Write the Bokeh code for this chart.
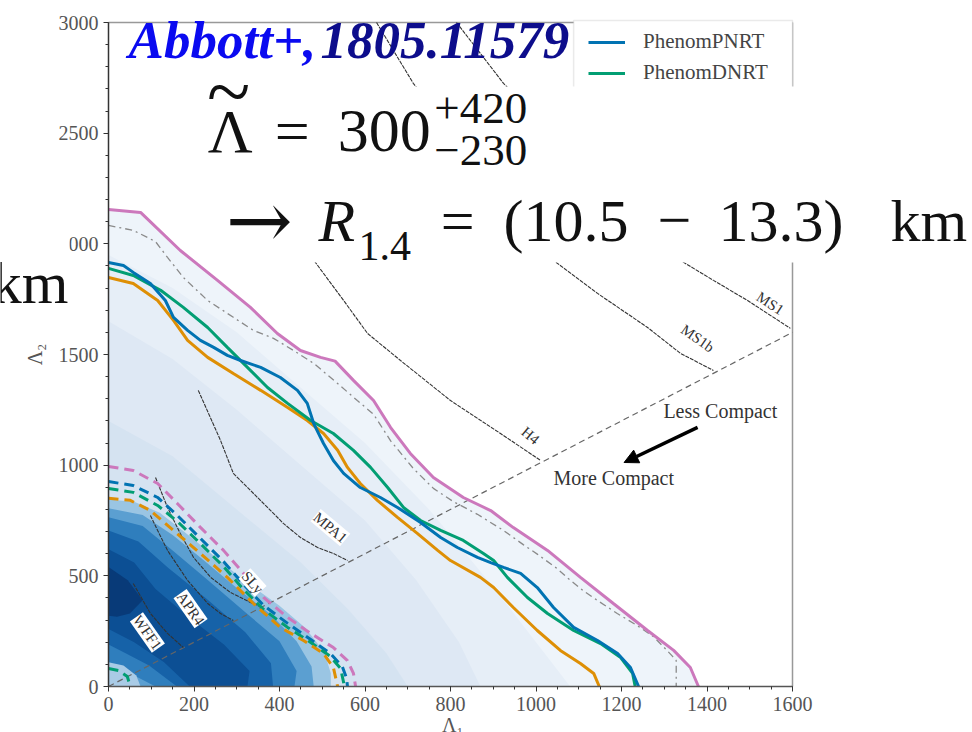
from bokeh.plotting import figure
from bokeh.models import (Label, BoxAnnotation, Legend, LegendItem, LinearAxis, Range1d,
                          Arrow, NormalHead, SingleIntervalTicker)
from bokeh.embed import file_html
from bokeh.resources import INLINE

SERIF = "Liberation Serif"

# ---------------- data ----------------
x_bounds = (0, 1600)
y_bounds = (0, 3000)

# 90% contours (solid)
pink_x = [0, 75, 168, 255, 332, 395, 449, 496, 530, 573, 620, 660, 706, 760, 830, 894, 947, 1027, 1104, 1181, 1261, 1322, 1361, 1380]
pink_y = [2155, 2142, 1970, 1835, 1713, 1595, 1518, 1487, 1470, 1383, 1292, 1170, 1053, 944, 854, 795, 718, 615, 493, 375, 253, 163, 86, 0]
blue_x = [0, 35, 58, 98, 133, 152, 185, 215, 246, 278, 309, 356, 402, 442, 465, 480, 503, 526, 550, 589, 636, 676, 730, 777, 816, 863, 894, 924, 964, 1003, 1041, 1088, 1144, 1191, 1221, 1240]
blue_y = [1916, 1902, 1871, 1821, 1744, 1668, 1609, 1564, 1532, 1496, 1473, 1442, 1396, 1338, 1279, 1188, 1098, 1021, 963, 899, 854, 809, 741, 673, 628, 583, 560, 538, 511, 447, 357, 267, 208, 149, 86, 0]
orange_x = [0, 58, 115, 152, 185, 232, 292, 356, 419, 465, 503, 536, 559, 589, 629, 676, 723, 770, 800, 870, 901, 947, 1003, 1057, 1104, 1135, 1148]
orange_y = [1848, 1821, 1744, 1654, 1564, 1487, 1414, 1338, 1261, 1202, 1143, 1067, 990, 917, 841, 764, 691, 615, 569, 493, 447, 357, 253, 163, 104, 59, 0]
green_x = [0, 58, 122, 175, 232, 278, 325, 372, 419, 473, 526, 573, 613, 653, 690, 730, 777, 830, 877, 901, 933, 980, 1027, 1088, 1151, 1198, 1226, 1232]
green_y = [1889, 1857, 1790, 1713, 1622, 1532, 1442, 1351, 1279, 1202, 1143, 1067, 990, 899, 809, 750, 705, 660, 601, 569, 493, 402, 330, 253, 194, 131, 59, 0]
dd_x = [0, 58, 110, 138, 175, 232, 292, 339, 386, 433, 480, 536, 582, 620, 660, 713, 760, 807, 863, 924, 971, 1003, 1050, 1074, 1111, 1135, 1190, 1237, 1275, 1298, 1320, 1328, 1328]
dd_y = [2083, 2061, 2010, 1939, 1848, 1744, 1668, 1609, 1573, 1518, 1460, 1369, 1292, 1230, 1110, 985, 895, 835, 778, 705, 640, 598, 532, 490, 432, 400, 330, 275, 225, 180, 135, 117, 0]

# 50% contours (dashed)
pinkd_x = [0, 58, 115, 161, 215, 269, 316, 363, 419, 473, 526, 559, 573, 578]
pinkd_y = [994, 976, 917, 827, 719, 615, 511, 402, 312, 240, 176, 117, 59, 0]
blued_x = [0, 58, 115, 161, 215, 269, 316, 363, 419, 473, 519, 547, 557, 559]
blued_y = [926, 908, 854, 773, 669, 565, 461, 366, 285, 212, 149, 90, 36, 0]
greend_x = [0, 58, 115, 161, 215, 269, 316, 363, 419, 473, 519, 543, 552]
greend_y = [895, 877, 818, 746, 646, 542, 438, 348, 267, 199, 136, 81, 0]
oranged_x = [0, 51, 98, 152, 215, 278, 339, 402, 456, 503, 526, 536]
oranged_y = [850, 841, 795, 705, 601, 493, 375, 267, 208, 149, 86, 0]
garc_x = [0, 23, 44, 51]
garc_y = [81, 72, 45, 0]

# EOS curves
ms1_x = [814, 924, 1338, 1415, 1495, 1595]
ms1_y = [3000, 2725, 1925, 1835, 1744, 1618]
ms1b_x = [627, 713, 1041, 1144, 1261, 1338, 1415]
ms1b_y = [3000, 2725, 1925, 1776, 1622, 1505, 1428]
h4_x = [426, 484, 550, 606, 683, 800, 917, 1011]
h4_y = [2196, 1916, 1744, 1595, 1473, 1292, 1143, 1021]
mpa1_x = [210, 262, 292, 332, 372, 409, 449, 489, 526, 559]
mpa1_y = [1338, 1112, 963, 886, 809, 737, 673, 628, 601, 569]
sly_x = [110, 138, 168, 199, 239, 285, 332, 360]
sly_y = [944, 809, 691, 583, 493, 425, 380, 357]
apr4_x = [98, 115, 138, 185, 232, 262, 292]
apr4_y = [773, 705, 615, 479, 375, 330, 298]
wff1_x = [58, 98, 138, 175]
wff1_y = [465, 330, 240, 176]
diag_x = [0, 1600]
diag_y = [0, 1600]

eos_names = ["MS1", "MS1b", "H4", "MPA1", "SLy", "APR4", "WFF1"]
eos_lx = [1548, 1378, 987, 519, 337, 192, 91]
eos_ly = [1731, 1573, 1134, 718, 470, 352, 244]
eos_ang = [-33, -35, -40, -40, -48, -55, -55]

arrow_x = [1378, 1206]
arrow_y = [1171, 1012]

# posterior density shading (nested levels)
shade_x = [
    [0] + pink_x,
    [0, 0, 150, 300, 450, 600, 750, 900, 1020, 1080],
    [0, 0, 150, 300, 450, 600, 720, 820, 870],
    [0, 0, 150, 300, 450, 560, 650, 700],
    [0, 0, 60, 120, 180, 250, 320, 400, 460, 505, 520, 520],
    [0, 0, 80, 150, 220, 300, 380, 440, 475, 480, 60],
    [0, 0, 80, 150, 230, 320, 400, 440, 435, 110, 50],
    [0, 0, 70, 140, 230, 320, 380, 385, 160, 95, 40],
    [0, 0, 60, 110, 190, 270, 330, 325, 190, 130, 60],
    [0, 0, 45, 80, 50, 20],
    [0, 0, 35, 65, 75],
]
shade_y = [
    [0] + pink_y,
    [0, 1950, 1800, 1600, 1350, 1100, 800, 450, 150, 0],
    [0, 1650, 1480, 1250, 1000, 750, 480, 200, 0],
    [0, 1200, 1040, 800, 560, 350, 150, 0],
    [0, 845, 835, 785, 695, 585, 475, 365, 265, 155, 60, 0],
    [20, 805, 775, 685, 575, 445, 325, 205, 90, 0, 0],
    [110, 765, 725, 615, 485, 335, 205, 70, 0, 0, 60],
    [190, 705, 655, 535, 395, 245, 105, 0, 0, 95, 150],
    [260, 620, 560, 440, 310, 190, 70, 0, 0, 110, 200],
    [320, 540, 480, 390, 330, 315],
    [0, 110, 95, 50, 0],
]
shade_colors = ["#eef4fa", "#e6eef7", "#dee8f4", "#d5e3f1", "#9ac5e3", "#5b9fd1",
                "#2f7ebd", "#1662a8", "#0c4f94", "#083a78", "#a9cbe6"]

# ---------------- figure ----------------
# frame fills the whole canvas; the chart's axes sit at fixed data locations
W, H = 972, 732
FX0, FX1, FY0, FY1 = 108, 792, 22, 686        # where 0..1600 / 3000..0 land
sx = (x_bounds[1] - x_bounds[0]) / (FX1 - FX0)
sy = (y_bounds[1] - y_bounds[0]) / (FY1 - FY0)
x_range = Range1d(-FX0 * sx, (W - FX0) * sx)
y_range = Range1d(-(H - FY1) * sy, FY1 * sy)

p = figure(frame_width=W, frame_height=H, x_range=x_range, y_range=y_range,
           x_axis_location=None, y_axis_location=None,
           output_backend="svg", toolbar_location=None,
           min_border=0, min_border_left=0, min_border_right=0, min_border_top=0, min_border_bottom=0)
p.outline_line_color = None
p.xgrid.grid_line_color = None
p.ygrid.grid_line_color = None
p.background_fill_color = "white"
p.border_fill_color = "white"

xax = LinearAxis(ticker=SingleIntervalTicker(interval=200, num_minor_ticks=4),
                 fixed_location=0, bounds=x_bounds)
yax = LinearAxis(ticker=SingleIntervalTicker(interval=500, num_minor_ticks=5),
                 fixed_location=0, bounds=y_bounds)
for ax, col in ((xax, "#555555"), (yax, "#333333")):
    ax.major_label_text_font = SERIF
    ax.major_label_text_font_size = "20px"
    ax.major_label_text_color = "#555555"
    ax.axis_line_color = col
    ax.axis_line_width = 1.5
    ax.major_tick_line_color = "#333333"
    ax.minor_tick_line_color = "#333333"
    ax.major_tick_out = 5
    ax.major_tick_in = 0
    ax.minor_tick_out = 3
    ax.minor_tick_in = 0
yax.axis_label = "Λ₂"
yax.axis_label_text_font = SERIF
yax.axis_label_text_font_style = "normal"
yax.axis_label_text_font_size = "20px"
yax.axis_label_text_color = "#555555"
yax.axis_label_standoff = 10
p.add_layout(xax, "below")
p.add_layout(yax, "left")

# shading
p.patches(shade_x, shade_y, fill_color=shade_colors, line_color=None)

# top / right frame lines
p.line([x_bounds[0], x_bounds[1]], [y_bounds[1], y_bounds[1]], line_color="#999999", line_width=1.5)
p.line([x_bounds[1], x_bounds[1]], [y_bounds[0], y_bounds[1]], line_color="#999999", line_width=1.5)

# equal-mass line
p.line(diag_x, diag_y, line_color="#666666", line_width=1.2, line_dash="6 4")

# EOS curves
for ex, ey in [(ms1_x, ms1_y), (ms1b_x, ms1b_y), (h4_x, h4_y), (mpa1_x, mpa1_y),
               (sly_x, sly_y), (apr4_x, apr4_y), (wff1_x, wff1_y)]:
    p.line(ex, ey, line_color="#333333", line_width=1.1, line_dash="4 1")

# dashed 50% contours
p.line(pinkd_x, pinkd_y, line_color="#CC78BC", line_width=3, line_dash="10 6")
p.line(blued_x, blued_y, line_color="#0173B2", line_width=3, line_dash="10 6")
p.line(greend_x, greend_y, line_color="#029E73", line_width=3, line_dash="10 6")
p.line(oranged_x, oranged_y, line_color="#DE8F05", line_width=3, line_dash="10 6")
p.line(garc_x, garc_y, line_color="#029E73", line_width=3, line_dash="10 6")

# solid 90% contours
p.line(dd_x, dd_y, line_color="#8a8a8a", line_width=1.3, line_dash="7 4 2 4")
p.line(pink_x, pink_y, line_color="#CC78BC", line_width=3)
p.line(orange_x, orange_y, line_color="#DE8F05", line_width=3)
r_green = p.line(green_x, green_y, line_color="#029E73", line_width=3)
r_blue = p.line(blue_x, blue_y, line_color="#0173B2", line_width=3)

# EOS labels
for name, lx, ly, ang in zip(eos_names, eos_lx, eos_ly, eos_ang):
    p.add_layout(Label(x=lx, y=ly, text=name, angle=ang, angle_units="deg",
                       text_align="center", text_baseline="middle",
                       text_font=SERIF, text_font_size="15px", text_color="#333333",
                       background_fill_color="white", background_fill_alpha=1.0))

# compactness annotation
p.add_layout(Arrow(x_start=arrow_x[0], y_start=arrow_y[0], x_end=arrow_x[1], y_end=arrow_y[1],
                   line_color="black", line_width=3.5,
                   end=NormalHead(size=14, fill_color="black", line_color="black")))
p.add_layout(Label(x=1298, y=1243, text="Less Compact", text_align="left", text_baseline="middle",
                   text_font=SERIF, text_font_size="20px", text_color="#333333"))
p.add_layout(Label(x=1041, y=944, text="More Compact", text_align="left", text_baseline="middle",
                   text_font=SERIF, text_font_size="20px", text_color="#333333"))

# legend frame (its lower part is hidden by the white overlay below)
p.add_layout(BoxAnnotation(left=1088, right=1600, bottom=2550, top=3009,
                           fill_color="white", fill_alpha=1.0,
                           line_color="#bbbbbb", line_width=1.5))

# borderless legend: padding collapses to 0, so place its items directly
legend = Legend(items=[LegendItem(label="PhenomPNRT", renderers=[r_blue]),
                       LegendItem(label="PhenomDNRT", renderers=[r_green])],
                location=(588, 647), margin=0, padding=0, spacing=6,
                glyph_width=37, glyph_height=22, label_height=22, label_width=130,
                label_standoff=18,
                label_text_font=SERIF, label_text_font_size="21px", label_text_color="#444444",
                border_line_color=None, background_fill_alpha=0.0)
p.add_layout(legend)

# white overlays (slide collage)
p.add_layout(BoxAnnotation(left=227, right=2100, bottom=1916, top=2711, level="overlay",
                           fill_color="white", fill_alpha=1.0, line_color=None))
p.add_layout(BoxAnnotation(left=-400, right=-91, bottom=1690, top=2052, level="overlay",
                           fill_color="white", fill_alpha=1.0, line_color=None))


def lab(x, y, text, size, color="#111111", style="normal", align="left", font=SERIF):
    p.add_layout(Label(x=x, y=y, text=text, text_align=align, text_baseline="middle",
                       text_font=font, text_font_size=size, text_font_style=style,
                       text_color=color, level="overlay"))


lab(47, 2919, "Abbott+,", "53px", color="#0a0af0", style="bold italic")
lab(496, 2919, "1805.11579", "53px", color="#0d0d8c", style="bold italic")

lab(232, 2512, "Λ", "62px")
lab(281, 2688, "~", "80px", align="center")
lab(430, 2512, "=", "62px", align="center")
lab(536, 2512, "300", "62px")
lab(762, 2611, "+420", "45px")
lab(762, 2422, "−230", "45px")

lab(274, 2105, "→", "80px", font="DejaVu Serif")
lab(491, 2105, "R", "60px", style="italic")
lab(585, 1992, "1.4", "42px")
lab(777, 2105, "=", "60px")
lab(924, 2105, "(10.5", "60px")
lab(1284, 2105, "−", "60px")
lab(1427, 2105, "13.3)", "60px")
lab(1829, 2105, "km", "60px")

lab(-94, 1821, "km", "60px", align="right")
lab(805, -176, "Λ₁", "20px", color="#555555", align="center")

open("out.html", "w").write(file_html(p, INLINE))
